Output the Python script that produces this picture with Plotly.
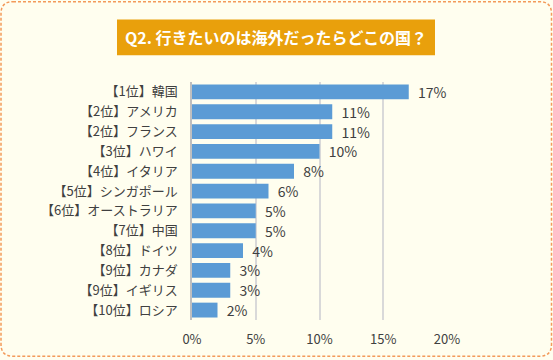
import plotly.graph_objects as go

categories = ["【1位】韓国", "【2位】アメリカ", "【2位】フランス", "【3位】ハワイ", "【4位】イタリア",
              "【5位】シンガポール", "【6位】オーストラリア", "【7位】中国", "【8位】ドイツ",
              "【9位】カナダ", "【9位】イギリス", "【10位】ロシア"]
values = [17, 11, 11, 10, 8, 6, 5, 5, 4, 3, 3, 2]
tick_vals = [0, 5, 10, 15, 20]
tick_text = ["0%", "5%", "10%", "15%", "20%"]
title_text = "Q2. 行きたいのは海外だったらどこの国？"

W, H = 553, 360
L, R, T, B = 192, 447, 82, 322

def px(x):
    return (x - L) / (R - L)

def py(y):
    return (B - y) / (B - T)

FONT = "Noto Sans CJK JP, Meiryo, sans-serif"
BG = "#FFFEEF"

fig = go.Figure(go.Bar(
    x=values, y=categories, orientation="h",
    marker=dict(color="#5B9BD5", line=dict(width=0)),
    text=[f"  {v}%" for v in values], textposition="outside",
    textfont=dict(size=14, color="#404040", family=FONT),
    constraintext="none",
    cliponaxis=False,
))

# rounded dashed border
r = 12
x0, y0, x1, y1 = 1, 1, W - 1.5, H - 1.5
path = (f"M {px(x0 + r)},{py(y0)} L {px(x1 - r)},{py(y0)} "
        f"Q {px(x1)},{py(y0)} {px(x1)},{py(y0 + r)} "
        f"L {px(x1)},{py(y1 - r)} Q {px(x1)},{py(y1)} {px(x1 - r)},{py(y1)} "
        f"L {px(x0 + r)},{py(y1)} Q {px(x0)},{py(y1)} {px(x0)},{py(y1 - r)} "
        f"L {px(x0)},{py(y0 + r)} Q {px(x0)},{py(y0)} {px(x0 + r)},{py(y0)} Z")
fig.add_shape(type="path", path=path, xref="paper", yref="paper",
              line=dict(color="#F39A5A", width=1.5, dash="3px,2px"), layer="below")

# title box
fig.add_shape(type="rect", xref="paper", yref="paper",
              x0=px(117), x1=px(435), y0=py(55), y1=py(19),
              fillcolor="#E9A00C", line=dict(width=0))
fig.add_annotation(text=f"<b>{title_text}</b>", xref="paper", yref="paper",
                   x=px(276), y=py(37), showarrow=False,
                   font=dict(size=16, color="white", family=FONT),
                   xanchor="center", yanchor="middle")

fig.update_layout(
    width=W, height=H,
    margin=dict(l=L, r=W - R, t=T, b=H - B),
    paper_bgcolor=BG, plot_bgcolor=BG,
    bargap=0.25, showlegend=False,
    font=dict(family=FONT, color="#404040"),
    xaxis=dict(range=[0, 20], tickvals=tick_vals, ticktext=tick_text,
               showgrid=True, gridcolor="#D9D9D9", gridwidth=1.5,
               zeroline=False, showline=False,
               tickfont=dict(size=13, color="#404040"), fixedrange=True,
               ticklabelstandoff=10),
    yaxis=dict(autorange="reversed", showgrid=False, showline=True,
               linecolor="#BFBFBF", linewidth=1.5,
               tickfont=dict(size=13, color="#404040"),
               ticklabelstandoff=10),
)

fig.write_html("out.html", config={"displayModeBar": False},
               post_script="document.body.style.margin='0';document.body.style.overflow='hidden';")
